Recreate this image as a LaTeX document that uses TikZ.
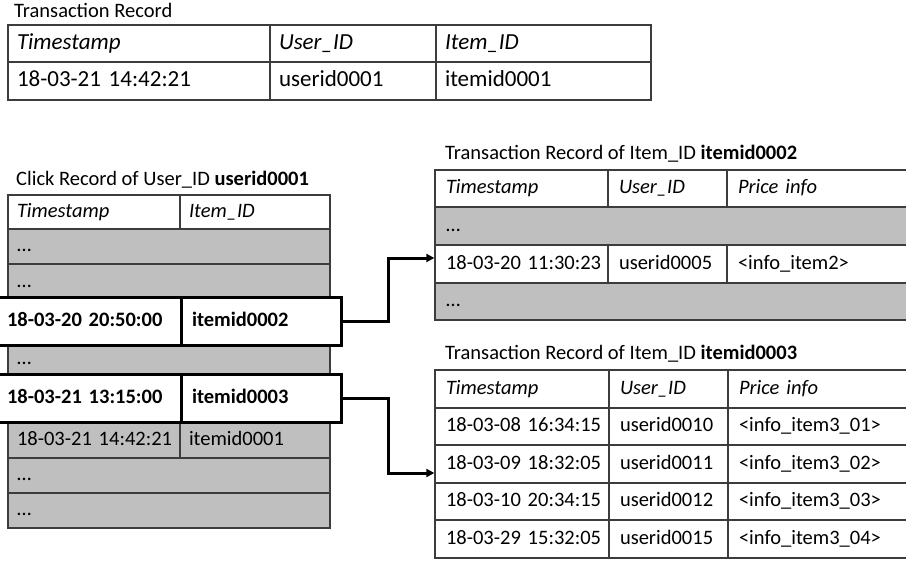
\documentclass[tikz,border=0pt]{standalone}
\usepackage{fontspec}
\setmainfont{Carlito}
\usetikzlibrary{arrows.meta,calc}
\definecolor{grayfill}{HTML}{BFBFBF}
\definecolor{linec}{HTML}{3C3C3C}
\newcommand\mycell[7][]{%
  \pgfmathsetmacro\cw{#5-#3}%
  \pgfmathsetmacro\ch{#6-#4}%
  \pgfmathsetmacro\tw{#5-#3-2*\cpad}%
  \node[cellbase,minimum width=\cw pt,minimum height=\ch pt,text width=\tw pt,inner xsep=\cpad pt,#1] (#2) at ({(#3+#5)/2},{(#4+#6)/2}) {\mbox{#7}};}
\begin{document}
\begin{tikzpicture}[x=1pt,y=-1pt,
  cellbase/.style={draw=linec,line width=1.3pt,fill=white,inner ysep=0pt,align=left,text height=14pt,text depth=4pt,font=\fontsize{20.5}{24}\selectfont},
  big/.style={font=\fontsize{23}{27}\selectfont,text height=16pt,text depth=4.5pt},
  bigit/.style={font=\fontsize{23}{27}\selectfont\itshape,text height=16pt,text depth=4.5pt},
  hdr/.style={font=\fontsize{20.5}{24}\selectfont\itshape},
  gry/.style={fill=grayfill},
  bld/.style={draw=black,line width=3pt,fill=white,font=\fontsize{20.5}{24}\selectfont\bfseries},
  ttl/.style={anchor=west,inner sep=0pt,font=\fontsize{20.5}{24}\selectfont},
  conn/.style={draw=black,line width=3pt,-{Triangle[length=8pt,width=8pt]}}]
\useasboundingbox (0,0) rectangle (906,562);
% ---------- top table
\node[ttl] (ttl0) at (14,10) {Transaction Record};
\def\cpad{9}
\mycell[bigit]{ta1}{8}{25}{270}{62}{Timestamp}
\mycell[bigit]{ta2}{270}{25}{436}{62}{User\_ID}
\mycell[bigit]{ta3}{436}{25}{651}{62}{Item\_ID}
\mycell[big]{tb1}{8}{62}{270}{100}{18-03-21 14:42:21}
\mycell[big]{tb2}{270}{62}{436}{100}{userid0001}
\mycell[big]{tb3}{436}{62}{651}{100}{itemid0001}
% ---------- click record
\node[ttl] (ttl1) at (16,180) {Click Record of User\_ID \textbf{userid0001}};
\def\cpad{9}
\mycell[hdr]{ca1}{8}{195}{180}{229}{Timestamp}
\mycell[hdr]{ca2}{180}{195}{330}{229}{Item\_ID}
\mycell[gry]{cg1}{8}{229}{330}{264}{…}
\mycell[gry]{cg2}{8}{264}{330}{301}{…}
\mycell[gry]{cg3}{8}{341}{330}{377}{…}
\mycell[gry]{cg4a}{8}{422}{180}{458}{18-03-21 14:42:21}
\mycell[gry]{cg4b}{180}{422}{330}{458}{itemid0001}
\mycell[gry]{cg5}{8}{458}{330}{493}{…}
\mycell[gry]{cg6}{8}{493}{330}{528}{…}
\def\cpad{11}
\mycell[bld]{b1t}{-4}{297}{181}{345}{18-03-20 20:50:00}
\mycell[bld]{b1i}{181}{297}{341}{345}{itemid0002}
\mycell[bld]{b2t}{-4}{374}{181}{422}{18-03-21 13:15:00}
\mycell[bld]{b2i}{181}{374}{341}{422}{itemid0003}
% ---------- transaction record itemid0002
\node[ttl] (ttl2) at (445,154) {Transaction Record of Item\_ID \textbf{itemid0002}};
\def\cpad{11}
\mycell[hdr]{ra1}{435}{170}{608}{207}{Timestamp}
\mycell[hdr]{ra2}{608}{170}{727}{207}{User\_ID}
\mycell[hdr]{ra3}{727}{170}{908}{207}{Price info}
\mycell[gry]{rg1}{435}{207}{908}{245}{…}
\mycell{r1a}{435}{245}{608}{283}{18-03-20 11:30:23}
\mycell{r1b}{608}{245}{727}{283}{userid0005}
\mycell{r1c}{727}{245}{908}{283}{<info\_item2>}
\mycell[gry]{rg2}{435}{283}{908}{320}{…}
% ---------- transaction record itemid0003
\node[ttl] (ttl3) at (445,354) {Transaction Record of Item\_ID \textbf{itemid0003}};
\mycell[hdr]{sa1}{435}{370}{609}{408}{Timestamp}
\mycell[hdr]{sa2}{609}{370}{728}{408}{User\_ID}
\mycell[hdr]{sa3}{728}{370}{908}{408}{Price info}
\mycell{s1a}{435}{408}{609}{445}{18-03-08 16:34:15}
\mycell{s1b}{609}{408}{728}{445}{userid0010}
\mycell{s1c}{728}{408}{908}{445}{<info\_item3\_01>}
\mycell{s2a}{435}{445}{609}{483}{18-03-09 18:32:05}
\mycell{s2b}{609}{445}{728}{483}{userid0011}
\mycell{s2c}{728}{445}{908}{483}{<info\_item3\_02>}
\mycell{s3a}{435}{483}{609}{520}{18-03-10 20:34:15}
\mycell{s3b}{609}{483}{728}{520}{userid0012}
\mycell{s3c}{728}{483}{908}{520}{<info\_item3\_03>}
\mycell{s4a}{435}{520}{609}{558}{18-03-29 15:32:05}
\mycell{s4b}{609}{520}{728}{558}{userid0015}
\mycell{s4c}{728}{520}{908}{558}{<info\_item3\_04>}
% ---------- connectors
\coordinate (k) at (388,0);
\draw[conn] (b1i.east) -- (b1i.east -| k) |- ($(r1a.west)+(0,-6)$);
\draw[conn] (b2i.east) -- (b2i.east -| k) |- ($(s2a.west)+(0,9)$);
\end{tikzpicture}
\end{document}
